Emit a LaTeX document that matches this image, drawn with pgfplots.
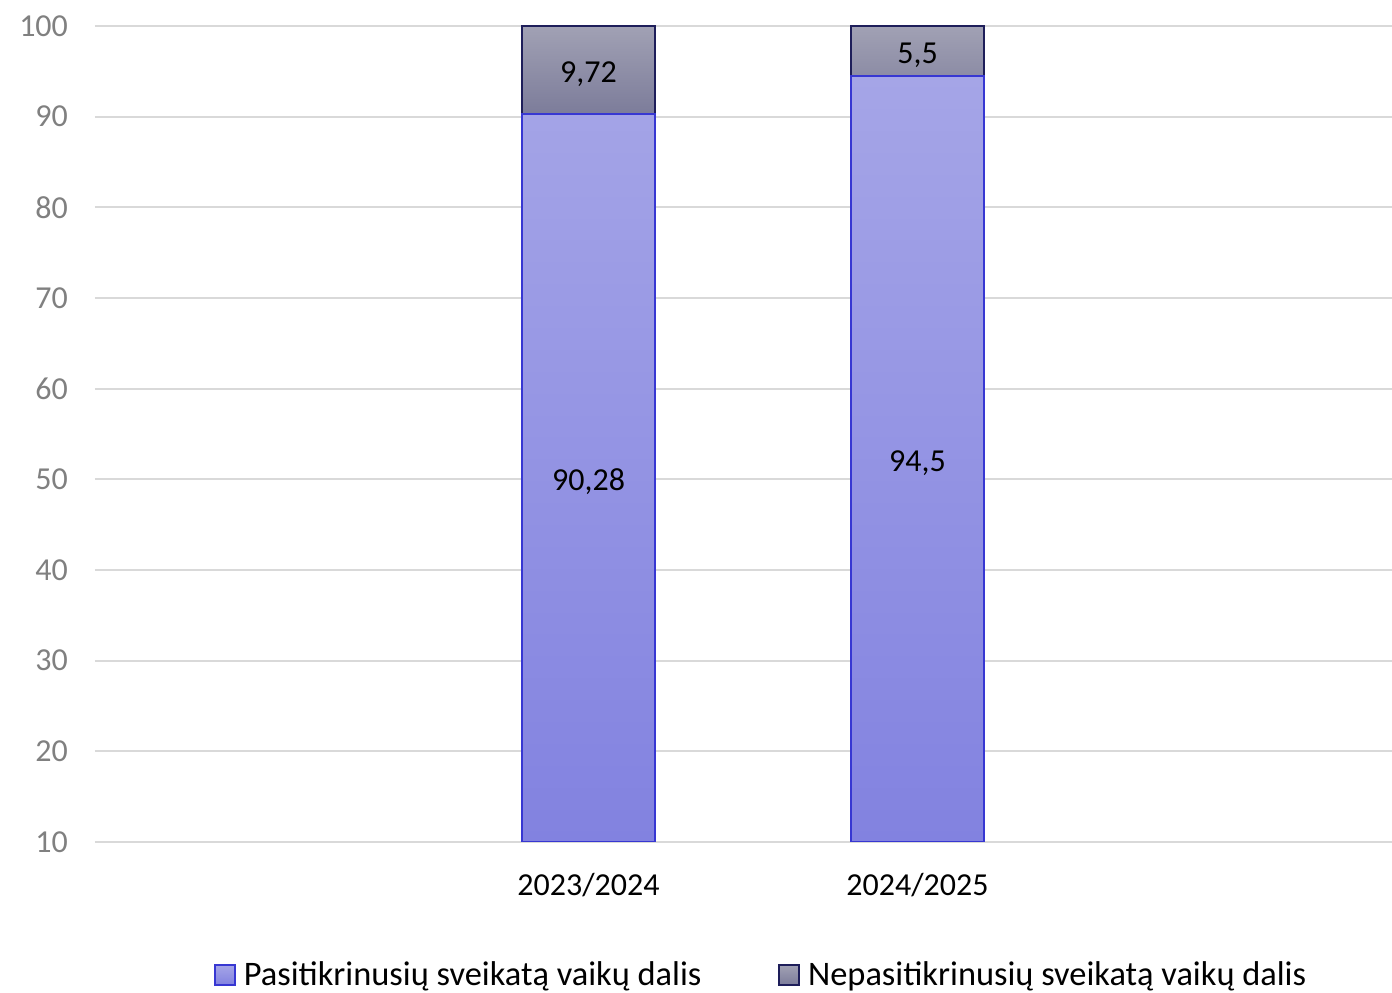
\documentclass[border=0pt]{standalone}
\usepackage{fontspec}
\setmainfont{Carlito}
\usepackage{pgfplots}
\pgfplotsset{compat=1.18}

\definecolor{gridgray}{RGB}{217,217,217}
\definecolor{tickgray}{RGB}{128,128,128}
\definecolor{bluetop}{RGB}{165,165,231}
\definecolor{bluebot}{RGB}{130,130,224}
\definecolor{blueedge}{RGB}{55,55,210}
\definecolor{greytop}{RGB}{161,161,180}
\definecolor{greybot}{RGB}{124,124,154}
\definecolor{greyedge}{RGB}{30,30,90}

\newcommand{\chartfont}{\fontsize{16}{19}\selectfont}
\newcommand{\legendfont}{\fontsize{17.2}{20}\selectfont}

\begin{document}
\begin{tikzpicture}
\begin{axis}[
    name=main,
    scale only axis,
    width=648.5pt, height=408pt,
    ybar stacked, bar width=66.5pt,
    xmin=-1.5, xmax=2.4422,
    ymin=10, ymax=100,
    xtick={0,1}, xticklabels={2023/2024,2024/2025},
    ytick={10,20,...,100},
    axis line style={draw=none},
    tick style={draw=none},
    ymajorgrids,
    grid style={gridgray, line width=1pt},
    /pgf/number format/assume math mode=true,
    tick label style={font=\chartfont},
    yticklabel style={text=tickgray, xshift=-10pt},
    xticklabel style={text=black, yshift=-12pt},
    legend style={at={(0.5144,-0.163)}, anchor=center, draw=none,
        font=\legendfont, legend columns=2,
        /tikz/every even column/.append style={column sep=36.5pt}},
    legend image code/.code={\draw[#1] (0pt,-5pt) rectangle (10pt,5pt);
        \path (12pt,0pt);},
]
% Pasitikrinusiu dalis
\addplot[draw=blueedge, line width=0.8pt, top color=bluetop, bottom color=bluebot]
    coordinates {(0,90.28) (1,94.5)};
\addlegendentry{Pasitikrinusių sveikatą vaikų dalis}
% Nepasitikrinusiu dalis
\addplot[draw=greyedge, line width=0.8pt, top color=greytop, bottom color=greybot]
    coordinates {(0,9.72) (1,5.5)};
\addlegendentry{Nepasitikrinusių sveikatą vaikų dalis}
\end{axis}

% value labels, centred in the visible part of each segment
\begin{axis}[
    at={(main.south west)}, anchor=south west,
    scale only axis,
    width=648.5pt, height=408pt,
    xmin=-1.5, xmax=2.4422,
    ymin=10, ymax=100,
    hide axis,
]
\addplot[only marks, mark=*, mark size=0pt, mark options={draw=none, fill=none},
    point meta=explicit symbolic, nodes near coords,
    every node near coord/.append style={anchor=center, yshift=-2pt, font=\chartfont, text=black}]
    coordinates {(0,50.14)[90,28] (1,52.25)[94,5] (0,95.14)[9,72] (1,97.25)[5,5]};
\end{axis}

\pgfresetboundingbox
\path ([xshift=-47.5pt,yshift=-75.5pt]main.south west) rectangle ([yshift=13pt]main.north east);
\end{tikzpicture}
\end{document}
